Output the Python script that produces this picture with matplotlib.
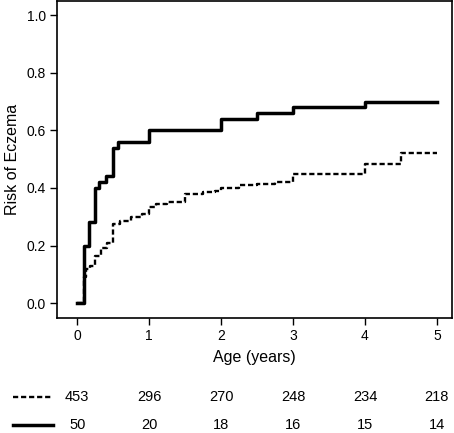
import matplotlib.pyplot as plt
from matplotlib.lines import Line2D
from matplotlib.transforms import blended_transform_factory

plt.rcParams['font.family'] = ['Liberation Sans', 'DejaVu Sans']

# step curves: time at which the risk jumps, and the risk after the jump
low_t = [0.0, 0.1, 0.13, 0.18, 0.25, 0.33, 0.42, 0.5, 0.6, 0.75, 0.9, 1.0, 1.1, 1.25,
         1.5, 1.75, 1.92, 2.0, 2.25, 2.5, 2.75, 3.0, 4.0, 4.5, 5.0]
low_risk = [0.0, 0.09, 0.12, 0.13, 0.165, 0.19, 0.21, 0.275, 0.285, 0.30, 0.31, 0.335, 0.345, 0.35,
            0.38, 0.385, 0.39, 0.40, 0.41, 0.415, 0.42, 0.45, 0.485, 0.52, 0.52]

high_t = [0.0, 0.09, 0.16, 0.25, 0.31, 0.4, 0.5, 0.57, 1.0, 2.0, 2.5, 3.0, 4.0, 5.0]
high_risk = [0.0, 0.2, 0.28, 0.40, 0.42, 0.44, 0.54, 0.56, 0.60, 0.64, 0.66, 0.68, 0.70, 0.70]

# numbers at risk
risk_times = [0, 1, 2, 3, 4, 5]
at_risk_low = [453, 296, 270, 248, 234, 218]
at_risk_high = [50, 20, 18, 16, 15, 14]

fig = plt.figure(figsize=(4.54, 4.33), dpi=100)
ax = fig.add_axes([57 / 454, 115 / 433, 395 / 454, 317 / 433])

ax.step(low_t, low_risk, where='post', color='black', lw=1.7, linestyle=(0, (2.2, 1.2)))
ax.step(high_t, high_risk, where='post', color='black', lw=2.5)

ax.set_xlim(-0.28, 5.21)
ax.set_ylim(-0.052, 1.05)
ax.set_xticks(risk_times)
ax.set_yticks([0.0, 0.2, 0.4, 0.6, 0.8, 1.0])
ax.set_yticklabels(['0.0', '0.2', '0.4', '0.6', '0.8', '1.0'])
ax.tick_params(labelsize=10, length=5, width=1, direction='out', pad=3)
for s in ax.spines.values():
    s.set_linewidth(1.2)

ax.set_xlabel('Age (years)', fontsize=11.5, labelpad=5)
ax.set_ylabel('Risk of Eczema', fontsize=11.5, labelpad=5)

# at-risk table under the axes
tr = blended_transform_factory(ax.transData, fig.transFigure)
row_y = [1 - 397 / 433, 1 - 425 / 433]
for t, a, b in zip(risk_times, at_risk_low, at_risk_high):
    ax.text(t, row_y[0], str(a), transform=tr, ha='center', va='center', fontsize=10.5, clip_on=False)
    ax.text(t, row_y[1], str(b), transform=tr, ha='center', va='center', fontsize=10.5, clip_on=False)

fig.add_artist(Line2D([13 / 454, 53 / 454], [row_y[0], row_y[0]], color='black', lw=1.7,
                      linestyle=(0, (2.2, 1.2))))
fig.add_artist(Line2D([13 / 454, 53 / 454], [row_y[1], row_y[1]], color='black', lw=2.5))

fig.savefig('out.png', dpi=100)
